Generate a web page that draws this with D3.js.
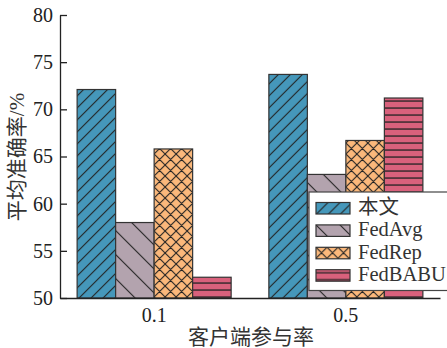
<!DOCTYPE html>
<html><head><meta charset="utf-8">
<script src="https://cdn.jsdelivr.net/npm/d3@7"></script>
<style>
html,body{margin:0;padding:0;background:#fff;}
svg{display:block;}
</style></head>
<body>
<svg id="chart" width="447" height="348"></svg>
<script>
const categories = ["0.1", "0.5"];
const seriesNames = ["本文", "FedAvg", "FedRep", "FedBABU"];
const values = {
  "本文":   [72.1, 73.7],
  "FedAvg": [58.0, 63.1],
  "FedRep": [65.8, 66.7],
  "FedBABU":[52.2, 71.2]
};
const yTicks = [50, 55, 60, 65, 70, 75, 80];
const colors = ["#4597ba", "#b3a3ae", "#fbb87b", "#d9617c"];
const patternIds = ["pBlue", "pGray", "pOrange", "pRed"];

const svg = d3.select("#chart");
const serif = "'Liberation Serif','Times New Roman','Noto Sans CJK SC',serif";

const x0 = d3.scaleBand().domain(categories).range([60, 440]).paddingInner(0.1967).paddingOuter(0.0893);
const x1 = d3.scaleBand().domain(seriesNames).range([0, x0.bandwidth()]);
const y = d3.scaleLinear().domain([50, 80]).range([298, 15]);

// patterns
const defs = svg.append("defs");
const ink = "#222";
let p = defs.append("pattern").attr("id", "pBlue").attr("patternUnits", "userSpaceOnUse").attr("width", 12).attr("height", 12);
p.append("rect").attr("width", 12).attr("height", 12).attr("fill", colors[0]);
p.append("path").attr("d", "M-3,3 L3,-3 M0,12 L12,0 M9,15 L15,9").attr("stroke", ink).attr("stroke-width", 1.1);
p = defs.append("pattern").attr("id", "pGray").attr("patternUnits", "userSpaceOnUse").attr("width", 24).attr("height", 24);
p.append("rect").attr("width", 24).attr("height", 24).attr("fill", colors[1]);
p.append("path").attr("d", "M-6,18 L6,30 M0,0 L24,24 M18,-6 L30,6").attr("stroke", ink).attr("stroke-width", 1.1);
p = defs.append("pattern").attr("id", "pOrange").attr("patternUnits", "userSpaceOnUse").attr("width", 11).attr("height", 11);
p.append("rect").attr("width", 11).attr("height", 11).attr("fill", colors[2]);
p.append("path").attr("d", "M0,0 L11,11 M-3,8 L3,14 M8,-3 L14,3 M0,11 L11,0 M-3,3 L3,-3 M8,14 L14,8").attr("stroke", ink).attr("stroke-width", 1.1);
p = defs.append("pattern").attr("id", "pRed").attr("patternUnits", "userSpaceOnUse").attr("width", 10).attr("height", 7);
p.append("rect").attr("width", 10).attr("height", 7).attr("fill", colors[3]);
p.append("rect").attr("x", 0).attr("y", 2.4).attr("width", 10).attr("height", 1.3).attr("fill", ink);

// bars
const groups = svg.append("g").selectAll("g").data(categories).join("g")
  .attr("transform", d => `translate(${x0(d)},0)`);
groups.selectAll("rect").data((c, ci) => seriesNames.map((s, si) => ({s, si, v: values[s][ci]})))
  .join("rect")
  .attr("x", d => x1(d.s))
  .attr("y", d => y(d.v))
  .attr("width", x1.bandwidth())
  .attr("height", d => y(50) - y(d.v))
  .attr("fill", d => `url(#${patternIds[d.si]})`)
  .attr("stroke", "#333")
  .attr("stroke-width", 1.2);

// y axis
const yAxis = svg.append("g").attr("transform", "translate(60,0)")
  .call(d3.axisLeft(y).tickValues(yTicks).tickSize(-7).tickPadding(7).tickSizeOuter(0));
yAxis.select(".domain").attr("stroke", "#222").attr("stroke-width", 1.3);
yAxis.selectAll(".tick line").attr("stroke", "#222").attr("stroke-width", 1.3);
yAxis.selectAll("text").attr("font-family", serif).attr("font-size", 20).attr("fill", "#222");

// x axis
const xAxis = svg.append("g").attr("transform", "translate(0,298)")
  .call(d3.axisBottom(x0).tickSize(0).tickSizeOuter(0).tickPadding(10));
xAxis.select(".domain").attr("stroke", "#222").attr("stroke-width", 1.3);
xAxis.selectAll("text").attr("font-family", serif).attr("font-size", 20).attr("fill", "#222");

// axis titles
svg.append("text").attr("transform", "translate(24,157) rotate(-90)")
  .attr("text-anchor", "middle").attr("font-family", serif).attr("font-size", 21).attr("fill", "#333")
  .text("平均准确率/%");
svg.append("text").attr("x", 251).attr("y", 344)
  .attr("text-anchor", "middle").attr("font-family", serif).attr("font-size", 21).attr("fill", "#333")
  .text("客户端参与率");

// legend
const lg = svg.append("g");
lg.append("rect").attr("x", 309).attr("y", 192).attr("width", 160).attr("height", 98.5)
  .attr("fill", "#fff").attr("stroke", "#444").attr("stroke-width", 1.2);
const items = lg.selectAll("g.item").data(seriesNames).join("g").attr("class", "item")
  .attr("transform", (d, i) => `translate(316,${202.5 + i * 22.4})`);
items.append("rect").attr("width", 34).attr("height", 11.5)
  .attr("fill", (d, i) => `url(#${patternIds[i]})`).attr("stroke", "#333").attr("stroke-width", 1.2);
items.append("text").attr("x", 42).attr("y", 6.5).attr("dominant-baseline", "middle")
  .attr("font-family", serif).attr("font-size", 20.5).attr("fill", "#333").text(d => d);
</script>
</body></html>
